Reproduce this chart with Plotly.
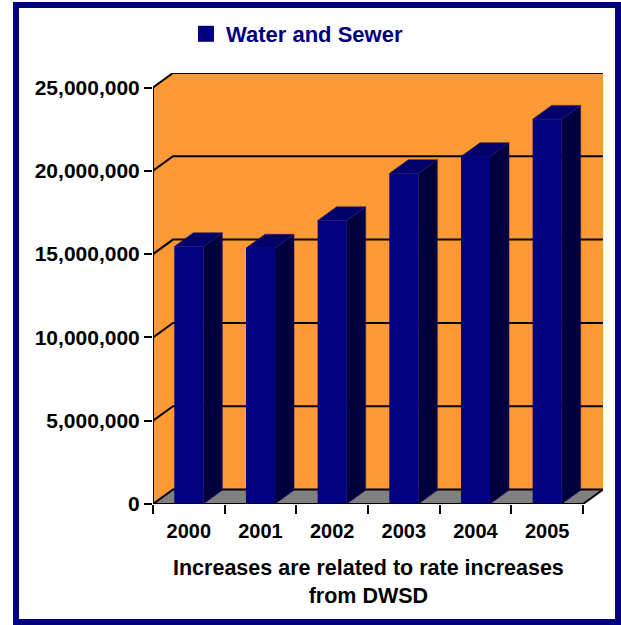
import plotly.graph_objects as go

# ---------------- data ----------------
years = ["2000", "2001", "2002", "2003", "2004", "2005"]
values = [15_450_000, 15_360_000, 17_010_000, 19_840_000, 20_860_000, 23_100_000]
y_ticks = [0, 5_000_000, 10_000_000, 15_000_000, 20_000_000, 25_000_000]
series_name = "Water and Sewer"
x_title = "Increases are related to rate increases<br>from DWSD"

# ---------------- styling / geometry ----------------
W, H = 621, 625
ML, MR, MT, MB = 153, 18, 73, 121
PW, PH = W - ML - MR, H - MT - MB
NAVY = "#000080"
TOP_C = "#00006A"
SIDE_C = "#00003C"
EDGE_C = "#2A1A6A"
ORANGE = "#FF9933"
GRAY = "#808080"
FONT = "Liberation Sans, Arial, sans-serif"

n = len(years)
YMAX = y_ticks[-1]
DEPTH_PX = (20.0, 14.5)                      # oblique depth of the 3-D box in pixels
px_per_cat = (PW - DEPTH_PX[0]) / n
DX = DEPTH_PX[0] / px_per_cat                # depth in category units
DY = DEPTH_PX[1] * YMAX / (PH - DEPTH_PX[1])  # depth in value units
x_lo, x_hi = -0.5, n - 0.5
BAR_W = 0.405
BAR_DEPTH = 0.95

fig = go.Figure()

# walls (back + left side)
wx = [x_lo + DX, x_hi + DX, x_hi + DX, x_lo + DX, x_lo + DX, None,
      x_lo, x_lo + DX, x_lo + DX, x_lo, x_lo]
wy = [DY, DY, YMAX + DY, YMAX + DY, DY, None,
      0, DY, YMAX + DY, YMAX, 0]
fig.add_trace(go.Scatter(x=wx, y=wy, fill="toself", fillcolor=ORANGE, mode="lines",
                         line=dict(width=0), hoverinfo="skip", showlegend=False,
                         cliponaxis=False))
# floor
fig.add_trace(go.Scatter(x=[x_lo, x_hi, x_hi + DX, x_lo + DX, x_lo],
                         y=[0, 0, DY, DY, 0], fill="toself", fillcolor=GRAY,
                         mode="lines", line=dict(width=0), hoverinfo="skip",
                         showlegend=False, cliponaxis=False))
# gridlines on walls
gx, gy = [], []
for v in y_ticks:
    gx += [x_lo, x_lo + DX, x_hi + DX, None]
    gy += [v, v + DY, v + DY, None]
gx += [x_hi, x_hi + DX, None]
gy += [0, DY, None]
fig.add_trace(go.Scatter(x=gx, y=gy, mode="lines", line=dict(color="black", width=2),
                         hoverinfo="skip", showlegend=False, cliponaxis=False))

# bars: side, top and front faces
bdx, bdy = DX * BAR_DEPTH, DY * BAR_DEPTH
sx, sy, tx, ty, fx, fy = [], [], [], [], [], []
for i, v in enumerate(values):
    r = i + BAR_W / 2
    l = i - BAR_W / 2
    sx += [r, r + bdx, r + bdx, r, r, None]
    sy += [0, bdy, v + bdy, v, 0, None]
    tx += [l, r, r + bdx, l + bdx, l, None]
    ty += [v, v, v + bdy, v + bdy, v, None]
    fx += [l, r, r, l, l, None]
    fy += [0, 0, v, v, 0, None]
fig.add_trace(go.Scatter(x=sx, y=sy, fill="toself", fillcolor=SIDE_C, mode="lines",
                         line=dict(width=0.6, color=EDGE_C), hoverinfo="skip",
                         showlegend=False, cliponaxis=False))
fig.add_trace(go.Scatter(x=tx, y=ty, fill="toself", fillcolor=TOP_C, mode="lines",
                         line=dict(width=0.6, color=EDGE_C), hoverinfo="skip",
                         showlegend=False, cliponaxis=False))
fig.add_trace(go.Scatter(x=fx, y=fy, fill="toself", fillcolor=NAVY, mode="lines",
                         line=dict(width=0), hoverinfo="skip",
                         showlegend=False, cliponaxis=False))

# legend entry
fig.add_trace(go.Scatter(x=[None], y=[None], mode="markers", name=series_name,
                         marker=dict(symbol="square", size=16, color=NAVY),
                         showlegend=True))

# axis lines on front plane
shapes = [
    dict(type="line", xref="x", yref="y", x0=x_lo, x1=x_hi, y0=0, y1=0,
         line=dict(color="black", width=2), layer="above"),
    dict(type="line", xref="x", yref="y", x0=x_lo, x1=x_lo, y0=0, y1=YMAX,
         line=dict(color="black", width=2), layer="above"),
]


def px2paper_x(px):
    return (px - ML) / PW


def px2paper_y(py):
    return (H - MB - py) / PH


# outer frame
shapes.append(dict(type="rect", xref="paper", yref="paper",
                   x0=px2paper_x(16), x1=px2paper_x(618),
                   y0=px2paper_y(622), y1=px2paper_y(5),
                   line=dict(color=NAVY, width=6), fillcolor="rgba(0,0,0,0)",
                   layer="above"))

fig.update_layout(
    width=W, height=H,
    margin=dict(l=ML, r=MR, t=MT, b=MB, pad=0),
    paper_bgcolor="white", plot_bgcolor="white",
    font=dict(family=FONT, color="black"),
    showlegend=True,
    legend=dict(orientation="h", x=px2paper_x(186), xanchor="left",
                y=px2paper_y(34), yanchor="middle", bgcolor="rgba(0,0,0,0)",
                font=dict(family=FONT, size=22, color=NAVY, weight="bold"),
                itemsizing="trace", itemwidth=30),
    shapes=shapes,
    annotations=[dict(text=x_title, x=(n - 1) / 2, xref="x", y=px2paper_y(554),
                      yref="paper", yanchor="top", xanchor="center", showarrow=False,
                      align="center",
                      font=dict(family=FONT, size=21.5, color="black", weight="bold"))],
    xaxis=dict(range=[x_lo, x_hi + DX], tickvals=list(range(n)), ticktext=years,
               ticks="outside", ticklen=9, tickcolor="rgba(0,0,0,0)",
               tickfont=dict(family=FONT, size=20, color="black", weight="bold"),
               minor=dict(tick0=-0.5, dtick=1, ticks="outside", ticklen=9,
                          tickwidth=2, tickcolor="black", showgrid=False),
               showgrid=False, zeroline=False, showline=False, fixedrange=True),
    yaxis=dict(range=[0, YMAX + DY], tickvals=y_ticks, tickformat=",d",
               ticks="outside", ticklen=8, tickwidth=2, tickcolor="black",
               tickfont=dict(family=FONT, size=21, color="black", weight="bold"),
               showgrid=False, zeroline=False, showline=False, fixedrange=True),
)

fig.write_html("out.html")
